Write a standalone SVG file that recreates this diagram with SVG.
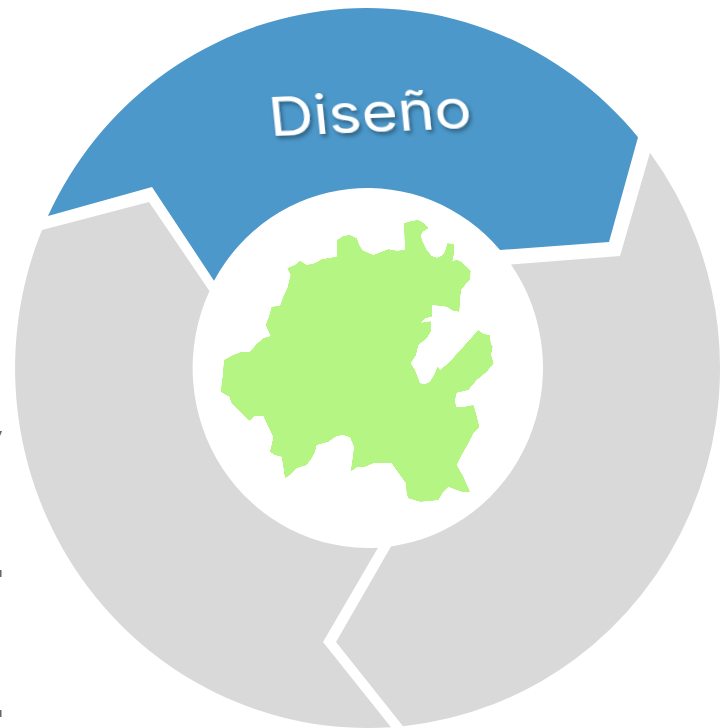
<svg xmlns="http://www.w3.org/2000/svg" width="728" height="728" viewBox="0 0 728 728">
  <style>
    .blue { fill: #4c98ca; }
    .grey { fill: #d9d9d9; }
    .map { fill: #b5f583; }
    .label { font-family: "Inter", "Open Sans", "Liberation Sans", sans-serif; font-size: 54px; font-weight: 400; fill: #ffffff; }
    .edge { fill: #666666; }
  </style>
  <defs>
    <filter id="shadow" x="-20%" y="-40%" width="140%" height="180%">
      <feDropShadow dx="2" dy="3" stdDeviation="2" flood-color="#000000" flood-opacity="0.4"/>
    </filter>
    <filter id="smooth" x="-5%" y="-5%" width="110%" height="110%" color-interpolation-filters="sRGB">
      <feGaussianBlur stdDeviation="1"/>
      <feComponentTransfer>
        <feFuncA type="linear" slope="2.5" intercept="-0.75"/>
      </feComponentTransfer>
    </filter>
  </defs>
  <rect width="728" height="728" fill="#ffffff"/>
  <g id="segment-diseno">
    <path class="blue" d="M48 215.900 L152 187 L214 280.700 A175.500 180 0 0 1 500 250 L609 242 L638 137.200 A352.500 360 0 0 0 48 215.900 Z"/>
    <text class="label" transform="matrix(0.999 -0.04 0.10 0.995 0 0)" x="256" y="147" textLength="203" lengthAdjust="spacingAndGlyphs" filter="url(#shadow)">Diseño</text>
  </g>
  <g id="segment-right">
    <path class="grey" d="M650 152.700 A352.500 360 0 0 1 403 726.200 L336 642 L391 546.400 A175.500 180 0 0 0 511 264.400 L620 256 Z"/>
  </g>
  <g id="segment-left">
    <path class="grey" d="M42 230 L149 202 L209.500 291 A175.500 180 0 0 0 378 547.700 L323 642 L391 727.200 A352.500 360 0 0 1 42 230 Z"/>
  </g>
  <g id="map">
    <path class="map" filter="url(#smooth)" transform="translate(200 200) scale(0.33333)" d="M612 70 L635 63 L655 60 L672 70 L686 84 L668 95 L662 108 L668 125 L680 150 L695 168 L710 173 L725 168 L735 155 L742 130 L762 132 L763 155 L757 183 L772 180 L785 186 L800 200 L812 212 L810 238 L795 255 L783 270 L780 300 L778 335 L760 332 L740 320 L718 317 L695 315 L697 340 L695 350 L675 355 L663 368 L692 364 L692 395 L680 415 L655 435 L648 465 L632 490 L645 510 L660 550 L675 553 L690 545 L705 520 L712 500 L720 510 L745 490 L790 440 L835 390 L850 402 L870 405 L872 430 L878 440 L873 465 L881 490 L860 515 L830 540 L805 570 L770 578 L765 600 L768 622 L795 620 L820 615 L828 640 L838 680 L820 700 L805 730 L785 765 L770 795 L790 830 L810 875 L790 877 L770 870 L745 860 L730 875 L715 900 L690 903 L660 905 L625 895 L620 880 L618 850 L600 825 L575 790 L545 788 L520 790 L495 800 L470 802 L452 815 L458 775 L462 740 L450 712 L430 705 L410 708 L385 725 L350 735 L345 755 L335 775 L320 795 L290 805 L270 825 L255 835 L250 800 L245 770 L225 765 L210 755 L220 712 L205 680 L190 648 L165 647 L148 662 L120 635 L95 610 L88 590 L62 575 L68 530 L72 480 L100 465 L125 455 L150 455 L170 432 L190 415 L212 408 L197 375 L207 350 L215 320 L240 318 L250 290 L262 265 L272 225 L262 205 L285 195 L300 182 L320 195 L345 190 L365 178 L410 170 L412 120 L430 108 L450 105 L470 115 L480 140 L490 152 L520 165 L545 155 L565 148 L590 152 L615 150 Z"/>
  </g>
  <g id="edge-marks">
    <path class="edge" d="M0 431 L2 431 L0 436 Z"/>
    <rect class="edge" x="0" y="570" width="1.500" height="7"/>
    <rect class="edge" x="0" y="710" width="1.500" height="7"/>
  </g>
</svg>
